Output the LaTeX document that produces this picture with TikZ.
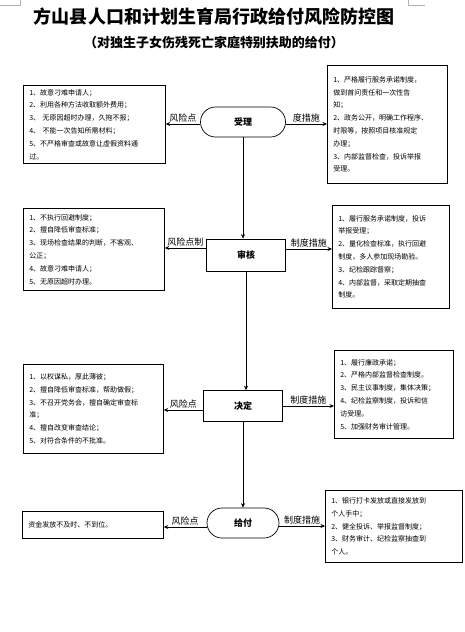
\documentclass[tikz,border=0pt]{standalone}
\usepackage{fontspec}
\setmainfont{Noto Sans CJK SC}
\usetikzlibrary{arrows.meta}
\tikzset{
  box/.style={draw, line width=0.7pt, anchor=north west, inner xsep=6pt, inner ysep=0pt, align=left, font=\fontsize{7}{12.8}\selectfont},
  flowrect/.style={draw, line width=0.7pt, font=\bfseries\fontsize{9}{11}\selectfont, inner sep=0pt},
  arr/.style={-{Stealth[length=4.5pt,width=4pt]}, line width=0.7pt},
  lab/.style={font=\fontsize{9}{10}\selectfont, inner sep=1pt, above}
}
\begin{document}
\begin{tikzpicture}[x=1pt,y=-1pt]
\useasboundingbox (0,0) rectangle (465,632);
% page corner marks
\draw[gray!60, line width=0.6pt] (0,5) -- (20,5) -- (20,0);
\draw[gray!60, line width=0.6pt] (408,0) -- (408,5) -- (425,5);
% titles
\node[font=\bfseries\fontsize{18}{20}\selectfont, inner sep=0] (title) at (214,17) {方山县人口和计划生育局行政给付风险防控图};
\node[font=\bfseries\fontsize{13}{15}\selectfont, inner sep=0] (subtitle) at (214,43) {（对独生子女伤残死亡家庭特别扶助的给付）};

% flow nodes
\node[flowrect, rounded corners=15pt, minimum width=85pt, minimum height=30pt] (shouli) at (243,122) {受理};
\node[flowrect, minimum width=79pt, minimum height=32pt] (shenhe) at (246,255) {审核};
\node[flowrect, minimum width=79pt, minimum height=31pt] (jueding) at (243,406) {决定};
\node[flowrect, rounded corners=15pt, minimum width=72pt, minimum height=30pt] (geifu) at (243,523) {给付};

% risk boxes (left)
\node[box, text width=130pt, minimum height=78pt] (L1) at (23,85) {1、故意刁难申请人；\\2、利用各种方法收取额外费用；\\3、 无原因超时办理，久拖不报；\\4、 不能一次告知所需材料；\\5、不严格审查或故意让虚假资料通\\过。};
\node[box, text width=129pt, minimum height=82pt] (L2) at (23,208) {1、不执行回避制度；\\2、擅自降低审查标准；\\3、现场检查结果的判断，不客观、\\公正；\\4、故意刁难申请人；\\5、无原因超时办理。};
\node[box, text width=128pt, minimum height=89pt] (L3) at (23,364) {1、以权谋私，厚此薄彼；\\2、擅自降低审查标准，帮助做假；\\3、不召开党务会，擅自确定审查标\\准；\\4、擅自改变审查结论；\\5、对符合条件的不批准。};
\node[box, text width=129pt, minimum height=27pt] (L4) at (22,511) {资金发放不及时、不到位。};

% measure boxes (right)
\node[box, text width=108pt, minimum height=118pt] (R1) at (327,65) {1、严格履行服务承诺制度，\\做到首问责任和一次性告\\知；\\2、政务公开，明确工作程序、\\时限等，按照项目核准规定\\办理；\\3、内部监督检查，投诉举报\\受理。};
\node[box, text width=105pt, minimum height=103pt] (R2) at (332,205) {1、履行服务承诺制度，投诉\\举报受理；\\2、量化检查标准，执行回避\\制度，多人参加现场勘验。\\3、纪检跟踪督察；\\4、内部监督，采取定期抽查\\制度。};
\node[box, text width=107pt, minimum height=88pt] (R3) at (334,350) {1、履行廉政承诺；\\2、严格内部监督检查制度。\\3、民主议事制度，集体决策；\\4、纪检监察制度，投诉和信\\访受理。\\5、加强财务审计管理。};
\node[box, text width=125pt, minimum height=72pt] (R4) at (325,490) {1、银行打卡发放或直接发放到\\个人手中；\\2、健全投诉、举报监督制度；\\3、财务审计、纪检监察抽查到\\个人。};

% vertical flow
\draw[arr] (shouli.south) -- (shouli.south |- shenhe.north);
\draw[arr] (shenhe.south) -- (shenhe.south |- jueding.north);
\draw[arr] (jueding.south) -- (jueding.south |- geifu.north);

% horizontal arrows with labels
\draw[arr] ([yshift=-2pt]shouli.west) -- node[lab] {风险点} ([yshift=-2pt]shouli.west -| L1.east);
\draw[arr] ([yshift=-2pt]shouli.east) -- node[lab] {度措施} ([yshift=-2pt]shouli.east -| R1.west);
\draw[arr] ([yshift=7pt]shenhe.west) -- node[lab] {风险点制} ([yshift=7pt]shenhe.west -| L2.east);
\draw[arr] ([yshift=6pt]shenhe.east) -- node[lab] {制度措施} ([yshift=6pt]shenhe.east -| R2.west);
\draw[arr] ([yshift=-4pt]jueding.west) -- node[lab] {风险点} ([yshift=-4pt]jueding.west -| L3.east);
\draw[arr] (jueding.east) -- node[lab] {制度措施} (jueding.east -| R3.west);
\draw[arr] ([yshift=-4pt]geifu.west) -- node[lab] {风险点} ([yshift=-4pt]geifu.west -| L4.east);
\draw[arr] ([yshift=-3pt]geifu.east) -- node[lab] {制度措施} ([yshift=-3pt]geifu.east -| R4.west);
\end{tikzpicture}
\end{document}
